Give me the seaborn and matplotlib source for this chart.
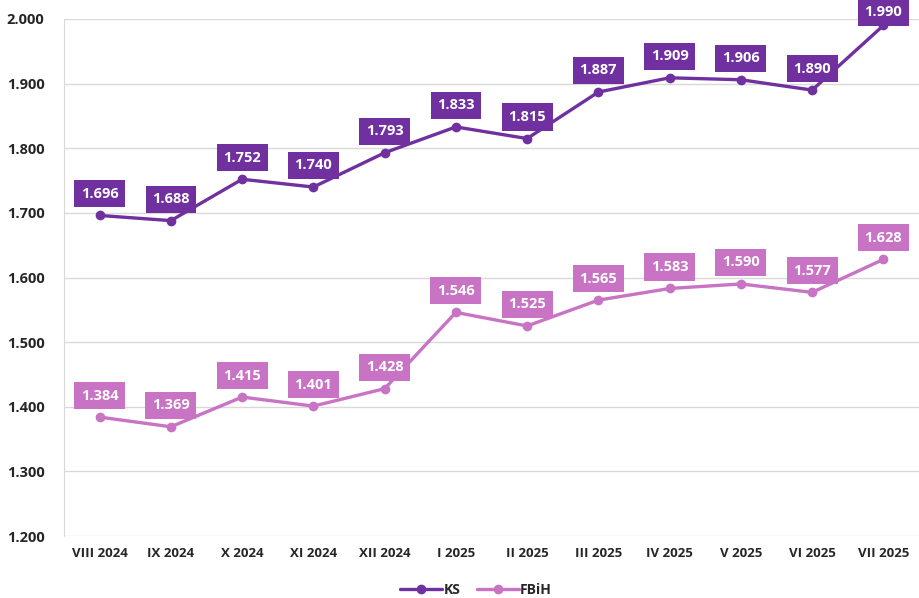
import pandas as pd
import matplotlib
matplotlib.use("Agg")
import matplotlib.pyplot as plt
import seaborn as sns

months = ["VIII 2024", "IX 2024", "X 2024", "XI 2024", "XII 2024", "I 2025",
          "II 2025", "III 2025", "IV 2025", "V 2025", "VI 2025", "VII 2025"]
ks = [1.696, 1.688, 1.752, 1.740, 1.793, 1.833, 1.815, 1.887, 1.909, 1.906, 1.890, 1.990]
fbih = [1.384, 1.369, 1.415, 1.401, 1.428, 1.546, 1.525, 1.565, 1.583, 1.590, 1.577, 1.628]
y_ticks = [1.2, 1.3, 1.4, 1.5, 1.6, 1.7, 1.8, 1.9, 2.0]

colors = {"KS": "#7030a0", "FBiH": "#c873c4"}

df = pd.DataFrame({"Mjesec": months * 2,
                   "Vrijednost": ks + fbih,
                   "Serija": ["KS"] * len(months) + ["FBiH"] * len(months)})

sns.set_style("white")
plt.rcParams["font.family"] = ["Open Sans", "DejaVu Sans"]

fig = plt.figure(figsize=(9.19, 5.98), dpi=100)
ax = fig.add_axes([64 / 919, 62 / 598, 1 - 64 / 919, (536 - 19) / 598])

sns.lineplot(data=df, x="Mjesec", y="Vrijednost", hue="Serija", palette=colors,
             marker="o", markersize=7, markeredgewidth=0, linewidth=2.4, ax=ax,
             sort=False)

ax.set_ylim(1.2, 2.0)
ax.set_xlim(-0.5, len(months) - 0.5)
ax.set_yticks(y_ticks)
ax.set_yticklabels([f"{v:.3f}" for v in y_ticks], fontsize=10.5, fontweight="bold")
ax.set_xticks(range(len(months)))
ax.set_xticklabels(months, fontsize=9.5, fontweight="bold")
ax.tick_params(axis="both", length=0, pad=8)
ax.tick_params(axis="y", pad=14)
ax.grid(axis="y", color="#d9d9d9", linewidth=1)
ax.set_xlabel("")
ax.set_ylabel("")
for s in ["top", "right", "bottom"]:
    ax.spines[s].set_visible(False)
ax.spines["left"].set_color("#d9d9d9")

for name, vals in [("KS", ks), ("FBiH", fbih)]:
    for i, v in enumerate(vals):
        # top label is pushed down to stay inside the figure
        dy = 9.5 if v >= 1.98 else 15.5
        ax.annotate(f"{v:.3f}", (i, v), xytext=(0, dy), textcoords="offset points",
                    ha="center", va="center", fontsize=10.5, fontweight="bold",
                    color="white", annotation_clip=False,
                    bbox=dict(boxstyle="square,pad=0.45", fc=colors[name], ec="none"))

ax.legend(handles=ax.get_legend().legend_handles, labels=["KS", "FBiH"],
          loc="center", bbox_to_anchor=(0.482, -0.105), ncol=2, frameon=False,
          prop={"weight": "bold", "size": 10}, handlelength=3, columnspacing=1.2,
          handletextpad=0.1)

fig.savefig("out.png", dpi=100)
